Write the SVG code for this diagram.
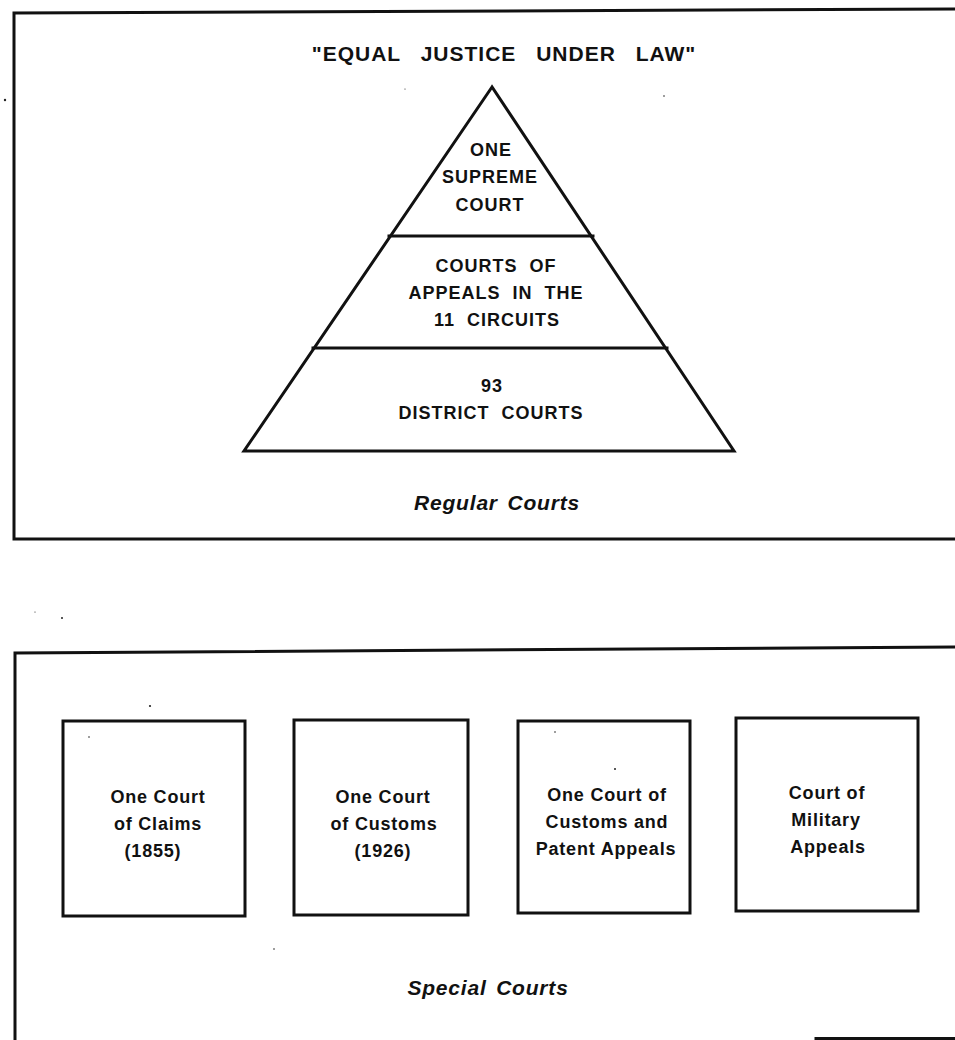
<svg xmlns="http://www.w3.org/2000/svg" width="955" height="1040" viewBox="0 0 955 1040">
<style>
.ln{fill:none;stroke:#111;stroke-width:3;stroke-linejoin:miter;stroke-linecap:square}
.cap{font-family:"Liberation Sans",Arial,sans-serif;font-weight:bold;font-size:18px;letter-spacing:1px;word-spacing:6px;fill:#111;text-anchor:middle}
.title{font-family:"Liberation Sans",Arial,sans-serif;font-weight:bold;font-size:21px;letter-spacing:1px;word-spacing:13px;fill:#111;text-anchor:middle}
.box{font-family:"Liberation Sans",Arial,sans-serif;font-weight:bold;font-size:18px;letter-spacing:0.8px;fill:#111;text-anchor:middle}
.lab{font-family:"Liberation Sans",Arial,sans-serif;font-weight:bold;font-style:italic;font-size:21px;letter-spacing:0.8px;word-spacing:3px;fill:#111;text-anchor:middle}
.speck{fill:#222}
</style>
<rect width="955" height="1040" fill="#fff"/>

<g id="regular-courts-frame">
<path class="ln" d="M955,9 L14,13 L14,539 L955,539"/>
<text class="title" x="504" y="61">"EQUAL JUSTICE UNDER LAW"</text>
<text class="lab" x="497" y="510">Regular Courts</text>
</g>

<g id="pyramid">
<polygon class="ln" points="492,87 244,451 734,451"/>
</g>
<g id="connectors">
<line class="ln" x1="389" y1="236" x2="593" y2="236"/>
<line class="ln" x1="313" y1="348" x2="667" y2="348"/>
</g>

<g id="supreme-court">
<text class="cap" x="491" y="156">ONE</text>
<text class="cap" x="490" y="183">SUPREME</text>
<text class="cap" x="490" y="211">COURT</text>
</g>
<g id="courts-of-appeals">
<text class="cap" x="496" y="272">COURTS OF</text>
<text class="cap" x="496" y="299">APPEALS IN THE</text>
<text class="cap" x="497" y="326">11 CIRCUITS</text>
</g>
<g id="district-courts">
<text class="cap" x="492" y="392">93</text>
<text class="cap" x="491" y="419">DISTRICT COURTS</text>
</g>

<g id="special-courts-frame">
<path class="ln" d="M955,647 L15,653 L15,1040"/>
<line class="ln" x1="816" y1="1038.5" x2="955" y2="1038.5"/>
<text class="lab" x="488" y="995">Special Courts</text>
</g>

<g id="court-of-claims">
<rect class="ln" x="63" y="721" width="182" height="195"/>
<text class="box" x="158" y="803">One Court</text>
<text class="box" x="158" y="830">of Claims</text>
<text class="box" x="153" y="857">(1855)</text>
</g>
<g id="court-of-customs">
<rect class="ln" x="294" y="720" width="174" height="195"/>
<text class="box" x="383" y="803">One Court</text>
<text class="box" x="384" y="830">of Customs</text>
<text class="box" x="383" y="857">(1926)</text>
</g>
<g id="customs-patent-appeals">
<rect class="ln" x="518" y="721" width="172" height="192"/>
<text class="box" x="607" y="801">One Court of</text>
<text class="box" x="607" y="828">Customs and</text>
<text class="box" x="606" y="855">Patent Appeals</text>
</g>
<g id="military-appeals">
<rect class="ln" x="736" y="718" width="182" height="193"/>
<text class="box" x="827" y="799">Court of</text>
<text class="box" x="826" y="826">Military</text>
<text class="box" x="828" y="853">Appeals</text>
</g>

<g id="specks">
<circle class="speck" cx="5" cy="100" r="1.2"/>
<circle class="speck" cx="62" cy="618" r="1"/>
<circle class="speck" cx="35" cy="612" r="0.6"/>
<circle class="speck" cx="150" cy="706" r="1.1"/>
<circle class="speck" cx="89" cy="737" r="0.8"/>
<circle class="speck" cx="555" cy="732" r="0.8"/>
<circle class="speck" cx="615" cy="769" r="1"/>
<circle class="speck" cx="274" cy="949" r="0.8"/>
<circle class="speck" cx="405" cy="89" r="0.6"/>
<circle class="speck" cx="664" cy="96" r="0.8"/>
</g>
</svg>
